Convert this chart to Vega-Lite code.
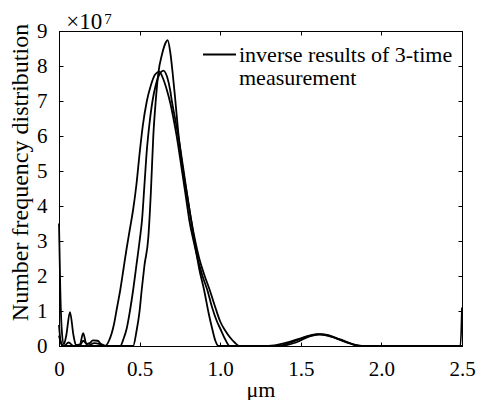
{
  "$schema": "https://vega.github.io/schema/vega-lite/v6.json",
  "width": 403,
  "height": 315,
  "autosize": {"type": "none"},
  "padding": {"left": 59, "top": 31, "right": 17, "bottom": 54},
  "config": {
    "font": "Liberation Serif",
    "view": {"stroke": "black", "strokeWidth": 1},
    "axis": {"grid": false, "domainColor": "black", "tickColor": "black", "labelColor": "black", "titleColor": "black", "labelFont": "Liberation Serif", "titleFont": "Liberation Serif", "labelFontSize": 21, "titleFontSize": 23, "titleFontWeight": "normal", "tickSize": -4, "labelPadding": 16}
  },
  "data": {"values": [
    {"r": 1, "x": 0, "y": 3.5}, {"r": 1, "x": 0.008, "y": 1.6}, {"r": 1, "x": 0.018, "y": 0.4}, {"r": 1, "x": 0.03, "y": 0.05}, {"r": 1, "x": 0.045, "y": 0.3}, {"r": 1, "x": 0.068, "y": 0.97}, {"r": 1, "x": 0.09, "y": 0.3}, {"r": 1, "x": 0.105, "y": 0.03}, {"r": 1, "x": 0.13, "y": 0.05}, {"r": 1, "x": 0.15, "y": 0.37}, {"r": 1, "x": 0.17, "y": 0.06}, {"r": 1, "x": 0.19, "y": 0.08}, {"r": 1, "x": 0.21, "y": 0.16}, {"r": 1, "x": 0.24, "y": 0.15}, {"r": 1, "x": 0.265, "y": 0.03}, {"r": 1, "x": 0.285, "y": 0},
    {"r": 1, "x": 0.31, "y": 0.15}, {"r": 1, "x": 0.34, "y": 0.6}, {"r": 1, "x": 0.36, "y": 1.1}, {"r": 1, "x": 0.38, "y": 1.6}, {"r": 1, "x": 0.4, "y": 2.2}, {"r": 1, "x": 0.42, "y": 2.8}, {"r": 1, "x": 0.44, "y": 3.35}, {"r": 1, "x": 0.46, "y": 3.9}, {"r": 1, "x": 0.48, "y": 4.6}, {"r": 1, "x": 0.5, "y": 5.5}, {"r": 1, "x": 0.52, "y": 6.3}, {"r": 1, "x": 0.545, "y": 7.0}, {"r": 1, "x": 0.57, "y": 7.45}, {"r": 1, "x": 0.595, "y": 7.75}, {"r": 1, "x": 0.622, "y": 7.84}, {"r": 1, "x": 0.645, "y": 7.65}, {"r": 1, "x": 0.67, "y": 7.3}, {"r": 1, "x": 0.69, "y": 6.95}, {"r": 1, "x": 0.71, "y": 6.5}, {"r": 1, "x": 0.73, "y": 6.0}, {"r": 1, "x": 0.76, "y": 5.1}, {"r": 1, "x": 0.79, "y": 4.17}, {"r": 1, "x": 0.81, "y": 3.55}, {"r": 1, "x": 0.835, "y": 3.0}, {"r": 1, "x": 0.86, "y": 2.5}, {"r": 1, "x": 0.89, "y": 2.0}, {"r": 1, "x": 0.92, "y": 1.6}, {"r": 1, "x": 0.95, "y": 1.1}, {"r": 1, "x": 0.98, "y": 0.7}, {"r": 1, "x": 1.0, "y": 0.5}, {"r": 1, "x": 1.03, "y": 0.2}, {"r": 1, "x": 1.06, "y": 0},
    {"r": 1, "x": 1.3, "y": 0}, {"r": 1, "x": 1.4, "y": 0.08}, {"r": 1, "x": 1.5, "y": 0.22}, {"r": 1, "x": 1.6, "y": 0.34}, {"r": 1, "x": 1.7, "y": 0.25}, {"r": 1, "x": 1.8, "y": 0.08}, {"r": 1, "x": 1.87, "y": 0}, {"r": 1, "x": 2.49, "y": 0}, {"r": 1, "x": 2.5, "y": 1.1},
    {"r": 2, "x": 0, "y": 0.6}, {"r": 2, "x": 0.01, "y": 0.15}, {"r": 2, "x": 0.03, "y": 0}, {"r": 2, "x": 0.06, "y": 0.1}, {"r": 2, "x": 0.09, "y": 0}, {"r": 2, "x": 0.13, "y": 0.02}, {"r": 2, "x": 0.15, "y": 0.15}, {"r": 2, "x": 0.18, "y": 0.02}, {"r": 2, "x": 0.22, "y": 0.08}, {"r": 2, "x": 0.26, "y": 0.05}, {"r": 2, "x": 0.3, "y": 0}, {"r": 2, "x": 0.38, "y": 0},
    {"r": 2, "x": 0.4, "y": 0.2}, {"r": 2, "x": 0.42, "y": 0.5}, {"r": 2, "x": 0.44, "y": 1.0}, {"r": 2, "x": 0.46, "y": 1.6}, {"r": 2, "x": 0.48, "y": 2.3}, {"r": 2, "x": 0.5, "y": 3.0}, {"r": 2, "x": 0.515, "y": 3.6}, {"r": 2, "x": 0.53, "y": 4.6}, {"r": 2, "x": 0.545, "y": 5.6}, {"r": 2, "x": 0.56, "y": 6.3}, {"r": 2, "x": 0.58, "y": 7.0}, {"r": 2, "x": 0.6, "y": 7.45}, {"r": 2, "x": 0.625, "y": 7.78}, {"r": 2, "x": 0.647, "y": 7.87}, {"r": 2, "x": 0.67, "y": 7.7}, {"r": 2, "x": 0.69, "y": 7.3}, {"r": 2, "x": 0.7, "y": 7.0}, {"r": 2, "x": 0.72, "y": 6.5}, {"r": 2, "x": 0.74, "y": 6.0}, {"r": 2, "x": 0.77, "y": 5.1}, {"r": 2, "x": 0.8, "y": 4.17}, {"r": 2, "x": 0.82, "y": 3.6}, {"r": 2, "x": 0.845, "y": 3.0}, {"r": 2, "x": 0.87, "y": 2.5}, {"r": 2, "x": 0.9, "y": 2.05}, {"r": 2, "x": 0.935, "y": 1.6}, {"r": 2, "x": 0.97, "y": 1.1}, {"r": 2, "x": 1.0, "y": 0.7}, {"r": 2, "x": 1.03, "y": 0.45}, {"r": 2, "x": 1.06, "y": 0.25}, {"r": 2, "x": 1.09, "y": 0.1}, {"r": 2, "x": 1.12, "y": 0},
    {"r": 2, "x": 1.35, "y": 0}, {"r": 2, "x": 1.45, "y": 0.12}, {"r": 2, "x": 1.55, "y": 0.28}, {"r": 2, "x": 1.62, "y": 0.34}, {"r": 2, "x": 1.72, "y": 0.22}, {"r": 2, "x": 1.82, "y": 0.05}, {"r": 2, "x": 1.88, "y": 0}, {"r": 2, "x": 2.5, "y": 0},
    {"r": 3, "x": 0, "y": 0.3}, {"r": 3, "x": 0.02, "y": 0}, {"r": 3, "x": 0.46, "y": 0}, {"r": 3, "x": 0.48, "y": 0.4}, {"r": 3, "x": 0.5, "y": 1.0}, {"r": 3, "x": 0.513, "y": 1.6}, {"r": 3, "x": 0.53, "y": 2.3}, {"r": 3, "x": 0.554, "y": 3.1}, {"r": 3, "x": 0.57, "y": 4.4}, {"r": 3, "x": 0.585, "y": 6.0}, {"r": 3, "x": 0.6, "y": 7.0}, {"r": 3, "x": 0.616, "y": 7.79}, {"r": 3, "x": 0.64, "y": 8.35}, {"r": 3, "x": 0.66, "y": 8.65}, {"r": 3, "x": 0.674, "y": 8.74}, {"r": 3, "x": 0.69, "y": 8.4}, {"r": 3, "x": 0.705, "y": 7.8}, {"r": 3, "x": 0.72, "y": 7.1}, {"r": 3, "x": 0.74, "y": 6.1}, {"r": 3, "x": 0.77, "y": 5.0}, {"r": 3, "x": 0.8, "y": 4.17}, {"r": 3, "x": 0.84, "y": 3.0}, {"r": 3, "x": 0.87, "y": 2.2}, {"r": 3, "x": 0.9, "y": 1.6}, {"r": 3, "x": 0.93, "y": 0.9}, {"r": 3, "x": 0.95, "y": 0.5}, {"r": 3, "x": 0.97, "y": 0.15}, {"r": 3, "x": 0.99, "y": 0},
    {"r": 3, "x": 1.37, "y": 0}, {"r": 3, "x": 1.47, "y": 0.1}, {"r": 3, "x": 1.57, "y": 0.3}, {"r": 3, "x": 1.64, "y": 0.33}, {"r": 3, "x": 1.75, "y": 0.18}, {"r": 3, "x": 1.85, "y": 0.02}, {"r": 3, "x": 1.9, "y": 0}, {"r": 3, "x": 2.5, "y": 0}
  ]},
  "layer": [
    {
      "mark": {"type": "line", "interpolate": "monotone", "strokeWidth": 1.8},
      "encoding": {
        "x": {"field": "x", "type": "quantitative", "scale": {"domain": [0, 2.5], "nice": false}, "axis": {"orient": "bottom", "values": [0, 0.5, 1, 1.5, 2, 2.5], "labelExpr": "datum.value == 0 ? '0' : format(datum.value, '.1f')", "title": "μm", "titlePadding": 0, "titleFontSize": 22, "labelFlush": false}},
        "y": {"field": "y", "type": "quantitative", "scale": {"domain": [0, 9], "nice": false}, "axis": {"orient": "left", "values": [0, 1, 2, 3, 4, 5, 6, 7, 8, 9], "title": "Number frequency distribution", "titlePadding": 4, "titleFontSize": 24, "titleY": 141}},
        "detail": {"field": "r"},
        "color": {"datum": "inverse results of 3-time measurement", "scale": {"range": ["black"]}, "legend": {"title": null, "orient": "none", "legendX": 143, "legendY": 6, "symbolType": "stroke", "symbolSize": 1089, "symbolStrokeWidth": 1.8, "symbolStrokeColor": "black", "labelFont": "Liberation Serif", "labelFontSize": 22, "labelColor": "black", "labelOffset": 2, "labelLimit": 400, "padding": 0, "labelExpr": "['inverse results of 3-time', 'measurement']", "encode": {"labels": {"update": {"lineHeight": {"value": 23}}}}}}
      }
    },
    {
      "mark": {"type": "line", "strokeOpacity": 0},
      "encoding": {
        "x": {"field": "x", "type": "quantitative", "scale": {"domain": [0, 2.5], "nice": false}, "axis": {"orient": "top", "values": [0, 0.5, 1, 1.5, 2, 2.5], "labels": false, "title": null}},
        "y": {"field": "y", "type": "quantitative", "scale": {"domain": [0, 9], "nice": false}, "axis": {"orient": "right", "values": [0, 1, 2, 3, 4, 5, 6, 7, 8, 9], "labels": false, "title": null}},
        "detail": {"field": "r"}
      }
    },
    {
      "data": {"values": [{"t": "×10"}]},
      "mark": {"type": "text", "align": "left", "baseline": "alphabetic", "fontSize": 23, "font": "Liberation Serif", "color": "black"},
      "encoding": {
        "text": {"field": "t"},
        "x": {"datum": 0.045, "type": "quantitative", "scale": {"domain": [0, 2.5], "nice": false}, "axis": null},
        "y": {"datum": 9.06, "type": "quantitative", "scale": {"domain": [0, 9], "nice": false}, "axis": null}
      }
    },
    {
      "data": {"values": [{"t": "7"}]},
      "mark": {"type": "text", "align": "left", "baseline": "alphabetic", "fontSize": 15, "font": "Liberation Serif", "color": "black"},
      "encoding": {
        "text": {"field": "t"},
        "x": {"datum": 0.281, "type": "quantitative", "scale": {"domain": [0, 2.5], "nice": false}, "axis": null},
        "y": {"datum": 9.2, "type": "quantitative", "scale": {"domain": [0, 9], "nice": false}, "axis": null}
      }
    }
  ],
  "resolve": {"scale": {"x": "independent", "y": "independent"}, "axis": {"x": "independent", "y": "independent"}}
}
